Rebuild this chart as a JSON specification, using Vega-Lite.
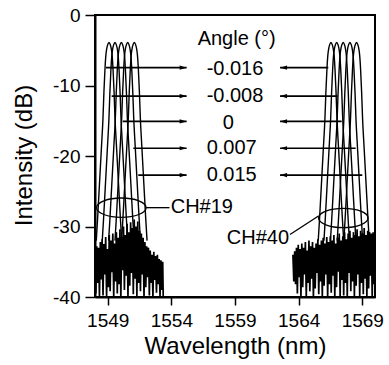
{
"$schema": "https://vega.github.io/schema/vega-lite/v6.json",
"width": 280, "height": 282,
"autosize": {"type": "none"},
"padding": {"left": 95, "top": 15, "right": 14, "bottom": 68},
"background": "white",
"config": {
 "view": {"stroke": "black", "strokeWidth": 2},
 "font": "Liberation Sans",
 "axis": {"domainColor": "black", "domainWidth": 2, "tickColor": "black", "tickWidth": 1.5, "labelColor": "black", "labelFont": "Liberation Sans", "labelFontSize": 19, "titleFont": "Liberation Sans", "titleFontSize": 24, "titleFontWeight": "normal", "titleColor": "black", "grid": false, "labelOverlap": false, "labelFlush": false}
},
"datasets": {
 "curves": [
{"s":"a1","x":1548.10,"y":-32},{"s":"a1","x":1548.20,"y":-29},{"s":"a1","x":1548.35,"y":-24},{"s":"a1","x":1548.50,"y":-19},{"s":"a1","x":1548.63,"y":-14.5},{"s":"a1","x":1548.70,"y":-11},{"s":"a1","x":1548.78,"y":-7.8},{"s":"a1","x":1548.85,"y":-5.8},{"s":"a1","x":1548.92,"y":-4.8},{"s":"a1","x":1549.00,"y":-4.2},{"s":"a1","x":1549.10,"y":-3.9},{"s":"a1","x":1549.20,"y":-4.2},{"s":"a1","x":1549.28,"y":-4.8},{"s":"a1","x":1549.35,"y":-5.8},{"s":"a1","x":1549.42,"y":-7.8},{"s":"a1","x":1549.50,"y":-11},{"s":"a1","x":1549.57,"y":-14.5},{"s":"a1","x":1549.70,"y":-19},{"s":"a1","x":1549.85,"y":-24},{"s":"a1","x":1550.00,"y":-29},{"s":"a1","x":1550.10,"y":-32},
{"s":"a2","x":1548.57,"y":-32},{"s":"a2","x":1548.67,"y":-29},{"s":"a2","x":1548.82,"y":-24},{"s":"a2","x":1548.97,"y":-19},{"s":"a2","x":1549.10,"y":-14.5},{"s":"a2","x":1549.17,"y":-11},{"s":"a2","x":1549.25,"y":-7.8},{"s":"a2","x":1549.32,"y":-5.8},{"s":"a2","x":1549.39,"y":-4.8},{"s":"a2","x":1549.47,"y":-4.2},{"s":"a2","x":1549.57,"y":-3.9},{"s":"a2","x":1549.67,"y":-4.2},{"s":"a2","x":1549.75,"y":-4.8},{"s":"a2","x":1549.82,"y":-5.8},{"s":"a2","x":1549.89,"y":-7.8},{"s":"a2","x":1549.97,"y":-11},{"s":"a2","x":1550.04,"y":-14.5},{"s":"a2","x":1550.17,"y":-19},{"s":"a2","x":1550.32,"y":-24},{"s":"a2","x":1550.47,"y":-29},{"s":"a2","x":1550.57,"y":-32},
{"s":"a3","x":1549.07,"y":-32},{"s":"a3","x":1549.17,"y":-29},{"s":"a3","x":1549.32,"y":-24},{"s":"a3","x":1549.47,"y":-19},{"s":"a3","x":1549.60,"y":-14.5},{"s":"a3","x":1549.67,"y":-11},{"s":"a3","x":1549.75,"y":-7.8},{"s":"a3","x":1549.82,"y":-5.8},{"s":"a3","x":1549.89,"y":-4.8},{"s":"a3","x":1549.97,"y":-4.2},{"s":"a3","x":1550.07,"y":-3.9},{"s":"a3","x":1550.17,"y":-4.2},{"s":"a3","x":1550.25,"y":-4.8},{"s":"a3","x":1550.32,"y":-5.8},{"s":"a3","x":1550.39,"y":-7.8},{"s":"a3","x":1550.47,"y":-11},{"s":"a3","x":1550.54,"y":-14.5},{"s":"a3","x":1550.67,"y":-19},{"s":"a3","x":1550.82,"y":-24},{"s":"a3","x":1550.97,"y":-29},{"s":"a3","x":1551.07,"y":-32},
{"s":"a4","x":1549.57,"y":-32},{"s":"a4","x":1549.67,"y":-29},{"s":"a4","x":1549.82,"y":-24},{"s":"a4","x":1549.97,"y":-19},{"s":"a4","x":1550.10,"y":-14.5},{"s":"a4","x":1550.17,"y":-11},{"s":"a4","x":1550.25,"y":-7.8},{"s":"a4","x":1550.32,"y":-5.8},{"s":"a4","x":1550.39,"y":-4.8},{"s":"a4","x":1550.47,"y":-4.2},{"s":"a4","x":1550.57,"y":-3.9},{"s":"a4","x":1550.67,"y":-4.2},{"s":"a4","x":1550.75,"y":-4.8},{"s":"a4","x":1550.82,"y":-5.8},{"s":"a4","x":1550.89,"y":-7.8},{"s":"a4","x":1550.97,"y":-11},{"s":"a4","x":1551.04,"y":-14.5},{"s":"a4","x":1551.17,"y":-19},{"s":"a4","x":1551.32,"y":-24},{"s":"a4","x":1551.47,"y":-29},{"s":"a4","x":1551.57,"y":-32},
{"s":"a5","x":1550.09,"y":-32},{"s":"a5","x":1550.19,"y":-29},{"s":"a5","x":1550.34,"y":-24},{"s":"a5","x":1550.49,"y":-19},{"s":"a5","x":1550.62,"y":-14.5},{"s":"a5","x":1550.69,"y":-11},{"s":"a5","x":1550.77,"y":-7.8},{"s":"a5","x":1550.84,"y":-5.8},{"s":"a5","x":1550.91,"y":-4.8},{"s":"a5","x":1550.99,"y":-4.2},{"s":"a5","x":1551.09,"y":-3.9},{"s":"a5","x":1551.19,"y":-4.2},{"s":"a5","x":1551.27,"y":-4.8},{"s":"a5","x":1551.34,"y":-5.8},{"s":"a5","x":1551.41,"y":-7.8},{"s":"a5","x":1551.49,"y":-11},{"s":"a5","x":1551.56,"y":-14.5},{"s":"a5","x":1551.69,"y":-19},{"s":"a5","x":1551.84,"y":-24},{"s":"a5","x":1551.99,"y":-29},{"s":"a5","x":1552.09,"y":-32},
{"s":"b1","x":1565.54,"y":-32},{"s":"b1","x":1565.64,"y":-29},{"s":"b1","x":1565.79,"y":-24},{"s":"b1","x":1565.94,"y":-19},{"s":"b1","x":1566.07,"y":-14.5},{"s":"b1","x":1566.14,"y":-11},{"s":"b1","x":1566.22,"y":-7.8},{"s":"b1","x":1566.29,"y":-5.8},{"s":"b1","x":1566.36,"y":-4.8},{"s":"b1","x":1566.44,"y":-4.2},{"s":"b1","x":1566.54,"y":-3.9},{"s":"b1","x":1566.64,"y":-4.2},{"s":"b1","x":1566.72,"y":-4.8},{"s":"b1","x":1566.79,"y":-5.8},{"s":"b1","x":1566.86,"y":-7.8},{"s":"b1","x":1566.94,"y":-11},{"s":"b1","x":1567.01,"y":-14.5},{"s":"b1","x":1567.14,"y":-19},{"s":"b1","x":1567.29,"y":-24},{"s":"b1","x":1567.44,"y":-29},{"s":"b1","x":1567.54,"y":-32},
{"s":"b2","x":1565.99,"y":-32},{"s":"b2","x":1566.09,"y":-29},{"s":"b2","x":1566.24,"y":-24},{"s":"b2","x":1566.39,"y":-19},{"s":"b2","x":1566.52,"y":-14.5},{"s":"b2","x":1566.59,"y":-11},{"s":"b2","x":1566.67,"y":-7.8},{"s":"b2","x":1566.74,"y":-5.8},{"s":"b2","x":1566.81,"y":-4.8},{"s":"b2","x":1566.89,"y":-4.2},{"s":"b2","x":1566.99,"y":-3.9},{"s":"b2","x":1567.09,"y":-4.2},{"s":"b2","x":1567.17,"y":-4.8},{"s":"b2","x":1567.24,"y":-5.8},{"s":"b2","x":1567.31,"y":-7.8},{"s":"b2","x":1567.39,"y":-11},{"s":"b2","x":1567.46,"y":-14.5},{"s":"b2","x":1567.59,"y":-19},{"s":"b2","x":1567.74,"y":-24},{"s":"b2","x":1567.89,"y":-29},{"s":"b2","x":1567.99,"y":-32},
{"s":"b3","x":1566.50,"y":-32},{"s":"b3","x":1566.60,"y":-29},{"s":"b3","x":1566.75,"y":-24},{"s":"b3","x":1566.90,"y":-19},{"s":"b3","x":1567.03,"y":-14.5},{"s":"b3","x":1567.10,"y":-11},{"s":"b3","x":1567.18,"y":-7.8},{"s":"b3","x":1567.25,"y":-5.8},{"s":"b3","x":1567.32,"y":-4.8},{"s":"b3","x":1567.40,"y":-4.2},{"s":"b3","x":1567.50,"y":-3.9},{"s":"b3","x":1567.60,"y":-4.2},{"s":"b3","x":1567.68,"y":-4.8},{"s":"b3","x":1567.75,"y":-5.8},{"s":"b3","x":1567.82,"y":-7.8},{"s":"b3","x":1567.90,"y":-11},{"s":"b3","x":1567.97,"y":-14.5},{"s":"b3","x":1568.10,"y":-19},{"s":"b3","x":1568.25,"y":-24},{"s":"b3","x":1568.40,"y":-29},{"s":"b3","x":1568.50,"y":-32},
{"s":"b4","x":1567.03,"y":-32},{"s":"b4","x":1567.13,"y":-29},{"s":"b4","x":1567.28,"y":-24},{"s":"b4","x":1567.43,"y":-19},{"s":"b4","x":1567.56,"y":-14.5},{"s":"b4","x":1567.63,"y":-11},{"s":"b4","x":1567.71,"y":-7.8},{"s":"b4","x":1567.78,"y":-5.8},{"s":"b4","x":1567.85,"y":-4.8},{"s":"b4","x":1567.93,"y":-4.2},{"s":"b4","x":1568.03,"y":-3.9},{"s":"b4","x":1568.13,"y":-4.2},{"s":"b4","x":1568.21,"y":-4.8},{"s":"b4","x":1568.28,"y":-5.8},{"s":"b4","x":1568.35,"y":-7.8},{"s":"b4","x":1568.43,"y":-11},{"s":"b4","x":1568.50,"y":-14.5},{"s":"b4","x":1568.63,"y":-19},{"s":"b4","x":1568.78,"y":-24},{"s":"b4","x":1568.93,"y":-29},{"s":"b4","x":1569.03,"y":-32},
{"s":"b5","x":1567.55,"y":-32},{"s":"b5","x":1567.65,"y":-29},{"s":"b5","x":1567.80,"y":-24},{"s":"b5","x":1567.95,"y":-19},{"s":"b5","x":1568.08,"y":-14.5},{"s":"b5","x":1568.15,"y":-11},{"s":"b5","x":1568.23,"y":-7.8},{"s":"b5","x":1568.30,"y":-5.8},{"s":"b5","x":1568.37,"y":-4.8},{"s":"b5","x":1568.45,"y":-4.2},{"s":"b5","x":1568.55,"y":-3.9},{"s":"b5","x":1568.65,"y":-4.2},{"s":"b5","x":1568.73,"y":-4.8},{"s":"b5","x":1568.80,"y":-5.8},{"s":"b5","x":1568.87,"y":-7.8},{"s":"b5","x":1568.95,"y":-11},{"s":"b5","x":1569.02,"y":-14.5},{"s":"b5","x":1569.15,"y":-19},{"s":"b5","x":1569.30,"y":-24},{"s":"b5","x":1569.45,"y":-29},{"s":"b5","x":1569.55,"y":-32}
 ],
 "noise": [
{"g":"n19","x":1548.00,"y":-33.5},{"g":"n19","x":1548.07,"y":-39.5},{"g":"n19","x":1548.14,"y":-32.8},{"g":"n19","x":1548.21,"y":-38.0},{"g":"n19","x":1548.28,"y":-33.0},{"g":"n19","x":1548.35,"y":-40.0},{"g":"n19","x":1548.42,"y":-32.2},{"g":"n19","x":1548.49,"y":-37.5},{"g":"n19","x":1548.56,"y":-31.8},{"g":"n19","x":1548.63,"y":-39.8},{"g":"n19","x":1548.70,"y":-32.5},{"g":"n19","x":1548.77,"y":-36.8},{"g":"n19","x":1548.84,"y":-31.5},{"g":"n19","x":1548.91,"y":-40.0},{"g":"n19","x":1548.98,"y":-33.2},{"g":"n19","x":1549.05,"y":-38.6},{"g":"n19","x":1549.12,"y":-31.2},{"g":"n19","x":1549.19,"y":-39.2},{"g":"n19","x":1549.26,"y":-32.0},{"g":"n19","x":1549.33,"y":-36.5},{"g":"n19","x":1549.40,"y":-31.0},{"g":"n19","x":1549.47,"y":-40.0},{"g":"n19","x":1549.54,"y":-32.4},{"g":"n19","x":1549.61,"y":-37.8},{"g":"n19","x":1549.68,"y":-30.8},{"g":"n19","x":1549.75,"y":-39.5},{"g":"n19","x":1549.82,"y":-31.6},{"g":"n19","x":1549.89,"y":-38.2},{"g":"n19","x":1549.96,"y":-30.4},{"g":"n19","x":1550.03,"y":-40.0},{"g":"n19","x":1550.10,"y":-31.5},{"g":"n19","x":1550.17,"y":-36.2},{"g":"n19","x":1550.24,"y":-30.0},{"g":"n19","x":1550.31,"y":-39.0},{"g":"n19","x":1550.38,"y":-31.2},{"g":"n19","x":1550.45,"y":-37.0},{"g":"n19","x":1550.52,"y":-29.6},{"g":"n19","x":1550.59,"y":-40.0},{"g":"n19","x":1550.66,"y":-30.8},{"g":"n19","x":1550.73,"y":-38.4},{"g":"n19","x":1550.80,"y":-29.4},{"g":"n19","x":1550.87,"y":-36.6},{"g":"n19","x":1550.94,"y":-30.2},{"g":"n19","x":1551.01,"y":-39.6},{"g":"n19","x":1551.08,"y":-29.0},{"g":"n19","x":1551.15,"y":-37.4},{"g":"n19","x":1551.22,"y":-30.0},{"g":"n19","x":1551.29,"y":-40.0},{"g":"n19","x":1551.36,"y":-29.3},{"g":"n19","x":1551.43,"y":-38.0},{"g":"n19","x":1551.50,"y":-30.6},{"g":"n19","x":1551.57,"y":-39.2},{"g":"n19","x":1551.64,"y":-31.0},{"g":"n19","x":1551.71,"y":-36.8},{"g":"n19","x":1551.78,"y":-31.6},{"g":"n19","x":1551.85,"y":-40.0},{"g":"n19","x":1551.92,"y":-32.2},{"g":"n19","x":1551.99,"y":-38.6},{"g":"n19","x":1552.06,"y":-32.8},{"g":"n19","x":1552.13,"y":-37.2},{"g":"n19","x":1552.20,"y":-33.0},{"g":"n19","x":1552.27,"y":-39.8},{"g":"n19","x":1552.34,"y":-33.4},{"g":"n19","x":1552.41,"y":-38.0},{"g":"n19","x":1552.48,"y":-34.0},{"g":"n19","x":1552.55,"y":-40.0},{"g":"n19","x":1552.62,"y":-33.6},{"g":"n19","x":1552.69,"y":-37.6},{"g":"n19","x":1552.76,"y":-34.2},{"g":"n19","x":1552.83,"y":-39.4},{"g":"n19","x":1552.90,"y":-34.0},{"g":"n19","x":1552.97,"y":-38.2},{"g":"n19","x":1553.04,"y":-34.6},{"g":"n19","x":1553.11,"y":-40.0},{"g":"n19","x":1553.18,"y":-34.8},{"g":"n19","x":1553.25,"y":-39.0},{"g":"n19","x":1553.32,"y":-35.0},{"g":"n19","x":1553.36,"y":-40.0},
{"g":"n40","x":1563.55,"y":-34.0},{"g":"n40","x":1563.62,"y":-37.8},{"g":"n40","x":1563.69,"y":-33.5},{"g":"n40","x":1563.76,"y":-38.2},{"g":"n40","x":1563.83,"y":-33.0},{"g":"n40","x":1563.90,"y":-39.5},{"g":"n40","x":1563.97,"y":-32.6},{"g":"n40","x":1564.04,"y":-37.2},{"g":"n40","x":1564.11,"y":-33.2},{"g":"n40","x":1564.18,"y":-40.0},{"g":"n40","x":1564.25,"y":-32.4},{"g":"n40","x":1564.32,"y":-38.6},{"g":"n40","x":1564.39,"y":-33.0},{"g":"n40","x":1564.46,"y":-36.8},{"g":"n40","x":1564.53,"y":-32.2},{"g":"n40","x":1564.60,"y":-40.0},{"g":"n40","x":1564.67,"y":-33.4},{"g":"n40","x":1564.74,"y":-38.0},{"g":"n40","x":1564.81,"y":-32.0},{"g":"n40","x":1564.88,"y":-39.2},{"g":"n40","x":1564.95,"y":-32.8},{"g":"n40","x":1565.02,"y":-37.4},{"g":"n40","x":1565.09,"y":-32.2},{"g":"n40","x":1565.16,"y":-40.0},{"g":"n40","x":1565.23,"y":-33.0},{"g":"n40","x":1565.30,"y":-38.8},{"g":"n40","x":1565.37,"y":-32.4},{"g":"n40","x":1565.44,"y":-36.6},{"g":"n40","x":1565.51,"y":-31.8},{"g":"n40","x":1565.58,"y":-39.6},{"g":"n40","x":1565.65,"y":-32.6},{"g":"n40","x":1565.72,"y":-37.8},{"g":"n40","x":1565.79,"y":-32.0},{"g":"n40","x":1565.86,"y":-40.0},{"g":"n40","x":1565.93,"y":-31.6},{"g":"n40","x":1566.00,"y":-38.4},{"g":"n40","x":1566.07,"y":-32.4},{"g":"n40","x":1566.14,"y":-36.8},{"g":"n40","x":1566.21,"y":-31.5},{"g":"n40","x":1566.28,"y":-40.0},{"g":"n40","x":1566.35,"y":-32.2},{"g":"n40","x":1566.42,"y":-38.2},{"g":"n40","x":1566.49,"y":-31.4},{"g":"n40","x":1566.56,"y":-39.4},{"g":"n40","x":1566.63,"y":-32.0},{"g":"n40","x":1566.70,"y":-37.0},{"g":"n40","x":1566.77,"y":-31.2},{"g":"n40","x":1566.84,"y":-40.0},{"g":"n40","x":1566.91,"y":-32.4},{"g":"n40","x":1566.98,"y":-38.6},{"g":"n40","x":1567.05,"y":-31.6},{"g":"n40","x":1567.12,"y":-36.4},{"g":"n40","x":1567.19,"y":-31.0},{"g":"n40","x":1567.26,"y":-40.0},{"g":"n40","x":1567.33,"y":-32.0},{"g":"n40","x":1567.40,"y":-37.6},{"g":"n40","x":1567.47,"y":-31.4},{"g":"n40","x":1567.54,"y":-39.8},{"g":"n40","x":1567.61,"y":-30.8},{"g":"n40","x":1567.68,"y":-38.0},{"g":"n40","x":1567.75,"y":-31.8},{"g":"n40","x":1567.82,"y":-40.0},{"g":"n40","x":1567.89,"y":-31.0},{"g":"n40","x":1567.96,"y":-36.6},{"g":"n40","x":1568.03,"y":-30.6},{"g":"n40","x":1568.10,"y":-39.2},{"g":"n40","x":1568.17,"y":-31.6},{"g":"n40","x":1568.24,"y":-37.8},{"g":"n40","x":1568.31,"y":-30.8},{"g":"n40","x":1568.38,"y":-40.0},{"g":"n40","x":1568.45,"y":-31.2},{"g":"n40","x":1568.52,"y":-38.4},{"g":"n40","x":1568.59,"y":-30.4},{"g":"n40","x":1568.66,"y":-36.8},{"g":"n40","x":1568.73,"y":-31.4},{"g":"n40","x":1568.80,"y":-40.0},{"g":"n40","x":1568.87,"y":-30.6},{"g":"n40","x":1568.94,"y":-38.0},{"g":"n40","x":1569.01,"y":-31.0},{"g":"n40","x":1569.08,"y":-39.6},{"g":"n40","x":1569.15,"y":-30.2},{"g":"n40","x":1569.22,"y":-37.4},{"g":"n40","x":1569.29,"y":-31.2},{"g":"n40","x":1569.36,"y":-40.0},{"g":"n40","x":1569.43,"y":-30.6},{"g":"n40","x":1569.50,"y":-38.8},{"g":"n40","x":1569.57,"y":-30.8},{"g":"n40","x":1569.64,"y":-37.0},{"g":"n40","x":1569.71,"y":-31.0},{"g":"n40","x":1569.78,"y":-40.0},{"g":"n40","x":1569.85,"y":-30.8},{"g":"n40","x":1569.92,"y":-38.2}
 ],
 "arrows": [
{"tail":1548.86,"head":1555.2,"y":-7.47,"dir":"r"},
{"tail":1549.31,"head":1555.2,"y":-11.5,"dir":"r"},
{"tail":1550.18,"head":1555.2,"y":-15.1,"dir":"r"},
{"tail":1551.01,"head":1555.2,"y":-18.9,"dir":"r"},
{"tail":1551.40,"head":1555.2,"y":-22.7,"dir":"r"},
{"tail":1566.33,"head":1562.54,"y":-7.47,"dir":"l"},
{"tail":1567.07,"head":1562.54,"y":-11.5,"dir":"l"},
{"tail":1567.38,"head":1562.54,"y":-15.1,"dir":"l"},
{"tail":1568.48,"head":1562.54,"y":-18.9,"dir":"l"},
{"tail":1569.00,"head":1562.54,"y":-22.7,"dir":"l"}
 ],
 "angles": [
{"t":"Angle (°)","x":1559.13,"y":-3.43},
{"t":"-0.016","x":1559.0,"y":-7.7},
{"t":"-0.008","x":1559.0,"y":-11.5},
{"t":"0","x":1558.48,"y":-15.3},
{"t":"0.007","x":1558.74,"y":-18.9},
{"t":"0.015","x":1558.74,"y":-22.7}
 ],
 "ellipses": [
{"ch":"CH#19","x":1550.07,"y":-27.33},
{"ch":"CH#40","x":1567.51,"y":-28.8}
 ],
 "links": [
{"id":"CH#19","x":1552.01,"y":-27.33},{"id":"CH#19","x":1553.85,"y":-27.33},
{"id":"CH#40","x":1563.32,"y":-31.14},{"id":"CH#40","x":1565.56,"y":-28.5}
 ]
},
"layer": [
 {"data": {"name": "noise"},
  "mark": {"type": "line", "color": "black", "strokeWidth": 1.7, "clip": true},
  "encoding": {
   "x": {"field": "x", "type": "quantitative", "scale": {"domain": [1548, 1570], "nice": false, "zero": false},
    "axis": {"values": [1549, 1551.5, 1554, 1556.5, 1559, 1561.5, 1564, 1566.5, 1569],
     "labelExpr": "datum.value % 5 == 4 ? '' + datum.value : ''",
     "tickSize": {"condition": {"test": "datum.value % 5 == 4", "value": 8}, "value": 4},
     "labelPadding": 6,
     "title": "Wavelength (nm)", "titleX": 140, "titleY": 56, "titleBaseline": "alphabetic", "titleAlign": "center"}},
   "y": {"field": "y", "type": "quantitative", "scale": {"domain": [-40, 0], "nice": false, "zero": false},
    "axis": {"values": [-40, -35, -30, -25, -20, -15, -10, -5, 0],
     "labelExpr": "datum.value % 10 == 0 ? '' + datum.value : ''",
     "tickSize": {"condition": {"test": "datum.value % 10 == 0", "value": 10}, "value": 5},
     "labelPadding": 5,
     "title": "Intensity (dB)", "titleAngle": -90, "titleX": -64, "titleY": 140, "titleBaseline": "alphabetic", "titleAlign": "center"}},
   "detail": {"field": "g"}
  }},
 {"data": {"name": "curves"},
  "mark": {"type": "line", "color": "black", "strokeWidth": 1.4, "interpolate": "monotone"},
  "encoding": {"x": {"field": "x", "type": "quantitative"}, "y": {"field": "y", "type": "quantitative"}, "detail": {"field": "s"}}},
 {"data": {"name": "arrows"},
  "mark": {"type": "rule", "color": "black", "strokeWidth": 1.7},
  "encoding": {"x": {"field": "tail", "type": "quantitative"}, "x2": {"field": "head"}, "y": {"field": "y", "type": "quantitative"}}},
 {"data": {"name": "arrows"},
  "mark": {"type": "point", "filled": true, "color": "black", "opacity": 1, "size": 196, "strokeWidth": 0},
  "encoding": {"x": {"field": "head", "type": "quantitative"}, "y": {"field": "y", "type": "quantitative"},
   "shape": {"field": "dir", "type": "nominal", "scale": {"domain": ["r", "l"], "range": ["M0,0L-1,-0.3L-1,0.3Z", "M0,0L1,-0.3L1,0.3Z"]}, "legend": null}}},
 {"data": {"name": "ellipses"},
  "mark": {"type": "point", "filled": false, "color": "black", "opacity": 1, "strokeWidth": 1.3, "size": 2450, "shape": "M-1,0A1,0.39 0 1,0 1,0A1,0.39 0 1,0 -1,0"},
  "encoding": {"x": {"field": "x", "type": "quantitative"}, "y": {"field": "y", "type": "quantitative"}}},
 {"data": {"name": "links"},
  "mark": {"type": "line", "color": "black", "strokeWidth": 1.3},
  "encoding": {"x": {"field": "x", "type": "quantitative"}, "y": {"field": "y", "type": "quantitative"}, "detail": {"field": "id"}}},
 {"data": {"name": "angles"},
  "mark": {"type": "text", "font": "Liberation Sans", "fontSize": 20, "color": "black", "align": "center", "baseline": "middle"},
  "encoding": {"x": {"field": "x", "type": "quantitative"}, "y": {"field": "y", "type": "quantitative"}, "text": {"field": "t"}}},
 {"data": {"values": [{"t": "CH#19", "x": 1553.95, "y": -27.3}]},
  "mark": {"type": "text", "font": "Liberation Sans", "fontSize": 20, "color": "black", "align": "left", "baseline": "middle"},
  "encoding": {"x": {"field": "x", "type": "quantitative"}, "y": {"field": "y", "type": "quantitative"}, "text": {"field": "t"}}},
 {"data": {"values": [{"t": "CH#40", "x": 1563.25, "y": -31.57}]},
  "mark": {"type": "text", "font": "Liberation Sans", "fontSize": 20, "color": "black", "align": "right", "baseline": "middle"},
  "encoding": {"x": {"field": "x", "type": "quantitative"}, "y": {"field": "y", "type": "quantitative"}, "text": {"field": "t"}}}
]
}
